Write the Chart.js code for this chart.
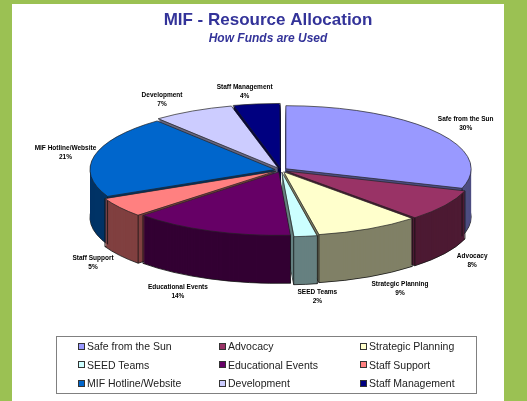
<!DOCTYPE html>
<html>
<head>
<meta charset="utf-8">
<script src="https://cdn.jsdelivr.net/npm/chart.js@4.4.1/dist/chart.umd.min.js"></script>
<style>
html, body { margin: 0; padding: 0; }
body { width: 527px; height: 401px; background: #9bc153; position: relative; overflow: hidden; font-family: Arial, "Liberation Sans", sans-serif; }
#panel { position: absolute; left: 12px; top: 4px; width: 492px; height: 397px; background: #fff; }
#chart { position: absolute; left: 0; top: 0; }
#legend {
    position: absolute; left: 56px; top: 336px; width: 421px; height: 58px;
    box-sizing: border-box; border: 1px solid #808080; padding: 0 0 0 21px;
    display: grid; grid-template-columns: 141px 141px 137px; grid-auto-rows: 18.5px;
    font-size: 10.5px; color: #222;
}
#legend div { display: flex; align-items: center; white-space: nowrap; }
#legend span.box { width: 7px; height: 7px; box-sizing: border-box; border: 1px solid #333; margin-right: 2px; }
</style>
</head>
<body>
<div id="panel"></div>
<canvas id="chart" width="527" height="401"></canvas>
<div id="legend"></div>
<script>
// datos
const categorias = ['Safe from the Sun', 'Advocacy', 'Strategic Planning', 'SEED Teams', 'Educational Events',
    'Staff Support', 'MIF Hotline/Website', 'Development', 'Staff Management'];
const porcentajes = [30, 8, 9, 2, 14, 5, 21, 7, 4];

const coloresTapa = ['#9999ff', '#993366', '#ffffcc', '#ccffff', '#660066', '#ff8080', '#0066cc', '#ccccff', '#000080'];
const coloresLado = ['#4d4d80', '#4d1a33', '#808066', '#668080', '#330033', '#804040', '#003366', '#666680', '#000040'];

// geometria del pastel inclinado
const CX = 281, CY = 170, RX = 185, RY = 63, PROF = 48;
const INCL = RY / RX;

// desplazamiento que Chart.js aplica a cada porcion (offset)
function empuje(arc) {
    const o = (arc.options.offset || 0) / 4;
    const fix = 1 - Math.sin(Math.min(Math.PI, arc.circumference || 0));
    const mid = (arc.startAngle + arc.endAngle) / 2;
    return { dx: Math.cos(mid) * o, dy: Math.sin(mid) * o, r: arc.outerRadius + o * fix };
}

function inclinar(ctx, arc, bajada) {
    ctx.translate(CX, CY + bajada);
    ctx.scale(1, INCL);
    ctx.translate(-arc.x, -arc.y);
}

function caminoPorcion(ctx, arc, bajada) {
    const p = empuje(arc);
    ctx.save();
    inclinar(ctx, arc, bajada);
    ctx.translate(p.dx, p.dy);
    ctx.beginPath();
    ctx.moveTo(arc.x, arc.y);
    ctx.arc(arc.x, arc.y, p.r, arc.startAngle, arc.endAngle);
    ctx.closePath();
    ctx.restore();
}

function puntoBorde(arc, ang, bajada) {
    const p = empuje(arc);
    return {
        x: CX + p.dx + p.r * Math.cos(ang),
        y: CY + bajada + INCL * (p.dy + p.r * Math.sin(ang))
    };
}

const pastel3D = {
    id: 'pastel3D',
    beforeDatasetsDraw(chart) {
        const ctx = chart.ctx;
        const arcos = chart.getDatasetMeta(0).data;

        // lados: capas desde el fondo hacia arriba
        for (let k = PROF; k >= 1; k--) {
            arcos.forEach((arc, i) => {
                caminoPorcion(ctx, arc, k);
                ctx.fillStyle = coloresLado[i];
                ctx.fill();
                if (k === PROF) {
                    ctx.strokeStyle = '#111';
                    ctx.lineWidth = 0.8;
                    ctx.stroke();
                }
            });
        }

        // aristas verticales visibles
        ctx.strokeStyle = '#111';
        ctx.lineWidth = 0.8;
        arcos.forEach(arc => {
            [arc.startAngle, arc.endAngle].forEach(a => {
                if (Math.sin(a) > 0.02) {
                    const arriba = puntoBorde(arc, a, 0);
                    const abajo = puntoBorde(arc, a, PROF);
                    ctx.beginPath();
                    ctx.moveTo(arriba.x, arriba.y);
                    ctx.lineTo(abajo.x, abajo.y);
                    ctx.stroke();
                }
            });
        });

        // la tapa la dibuja Chart.js con esta transformacion
        ctx.save();
        inclinar(ctx, arcos[0], 0);
    },
    afterDatasetsDraw(chart) {
        const ctx = chart.ctx;
        ctx.restore();
        const arcos = chart.getDatasetMeta(0).data;

        arcos.forEach(arc => {
            caminoPorcion(ctx, arc, 0);
            ctx.strokeStyle = '#222';
            ctx.lineWidth = 0.7;
            ctx.stroke();
        });

        // etiquetas fuera del borde
        ctx.fillStyle = '#000';
        ctx.font = 'bold 6.5px Arial';
        ctx.textAlign = 'center';
        ctx.textBaseline = 'middle';
        arcos.forEach((arc, i) => {
            const mid = (arc.startAngle + arc.endAngle) / 2;
            const c = Math.cos(mid), s = Math.sin(mid);
            const lx = CX + RX * c + 35 * Math.sign(c) * Math.min(1, 3 * Math.abs(c));
            const ly = CY + RY * s + 16 * s + PROF * Math.min(Math.max(4 * s, 0), 1);
            ctx.fillText(categorias[i], lx, ly - 4.5);
            ctx.fillText(porcentajes[i] + '%', lx, ly + 4.5);
        });
    }
};

const grafico = new Chart(document.getElementById('chart'), {
    type: 'pie',
    data: {
        labels: categorias,
        datasets: [{
            data: porcentajes,
            backgroundColor: coloresTapa,
            borderWidth: 0,
            offset: 24,
            clip: false
        }]
    },
    options: {
        responsive: false,
        animation: false,
        events: [],
        radius: RX,
        layout: { padding: { left: 9 } },
        plugins: {
            legend: { display: false },
            tooltip: { enabled: false },
            title: {
                display: true,
                text: 'MIF - Resource Allocation',
                color: '#333399',
                font: { family: 'Arial', size: 17, weight: 'bold' },
                padding: { top: 10, bottom: 1 }
            },
            subtitle: {
                display: true,
                text: 'How Funds are Used',
                color: '#333399',
                font: { family: 'Arial', size: 12, weight: 'bold', style: 'italic' },
                padding: { top: 0, bottom: 10 }
            }
        }
    },
    plugins: [pastel3D]
});

// leyenda en tres columnas
const leyenda = document.getElementById('legend');
categorias.forEach((nombre, i) => {
    const item = document.createElement('div');
    const cuadro = document.createElement('span');
    cuadro.className = 'box';
    cuadro.style.background = coloresTapa[i];
    item.appendChild(cuadro);
    item.appendChild(document.createTextNode(nombre));
    leyenda.appendChild(item);
});
</script>
</body>
</html>
